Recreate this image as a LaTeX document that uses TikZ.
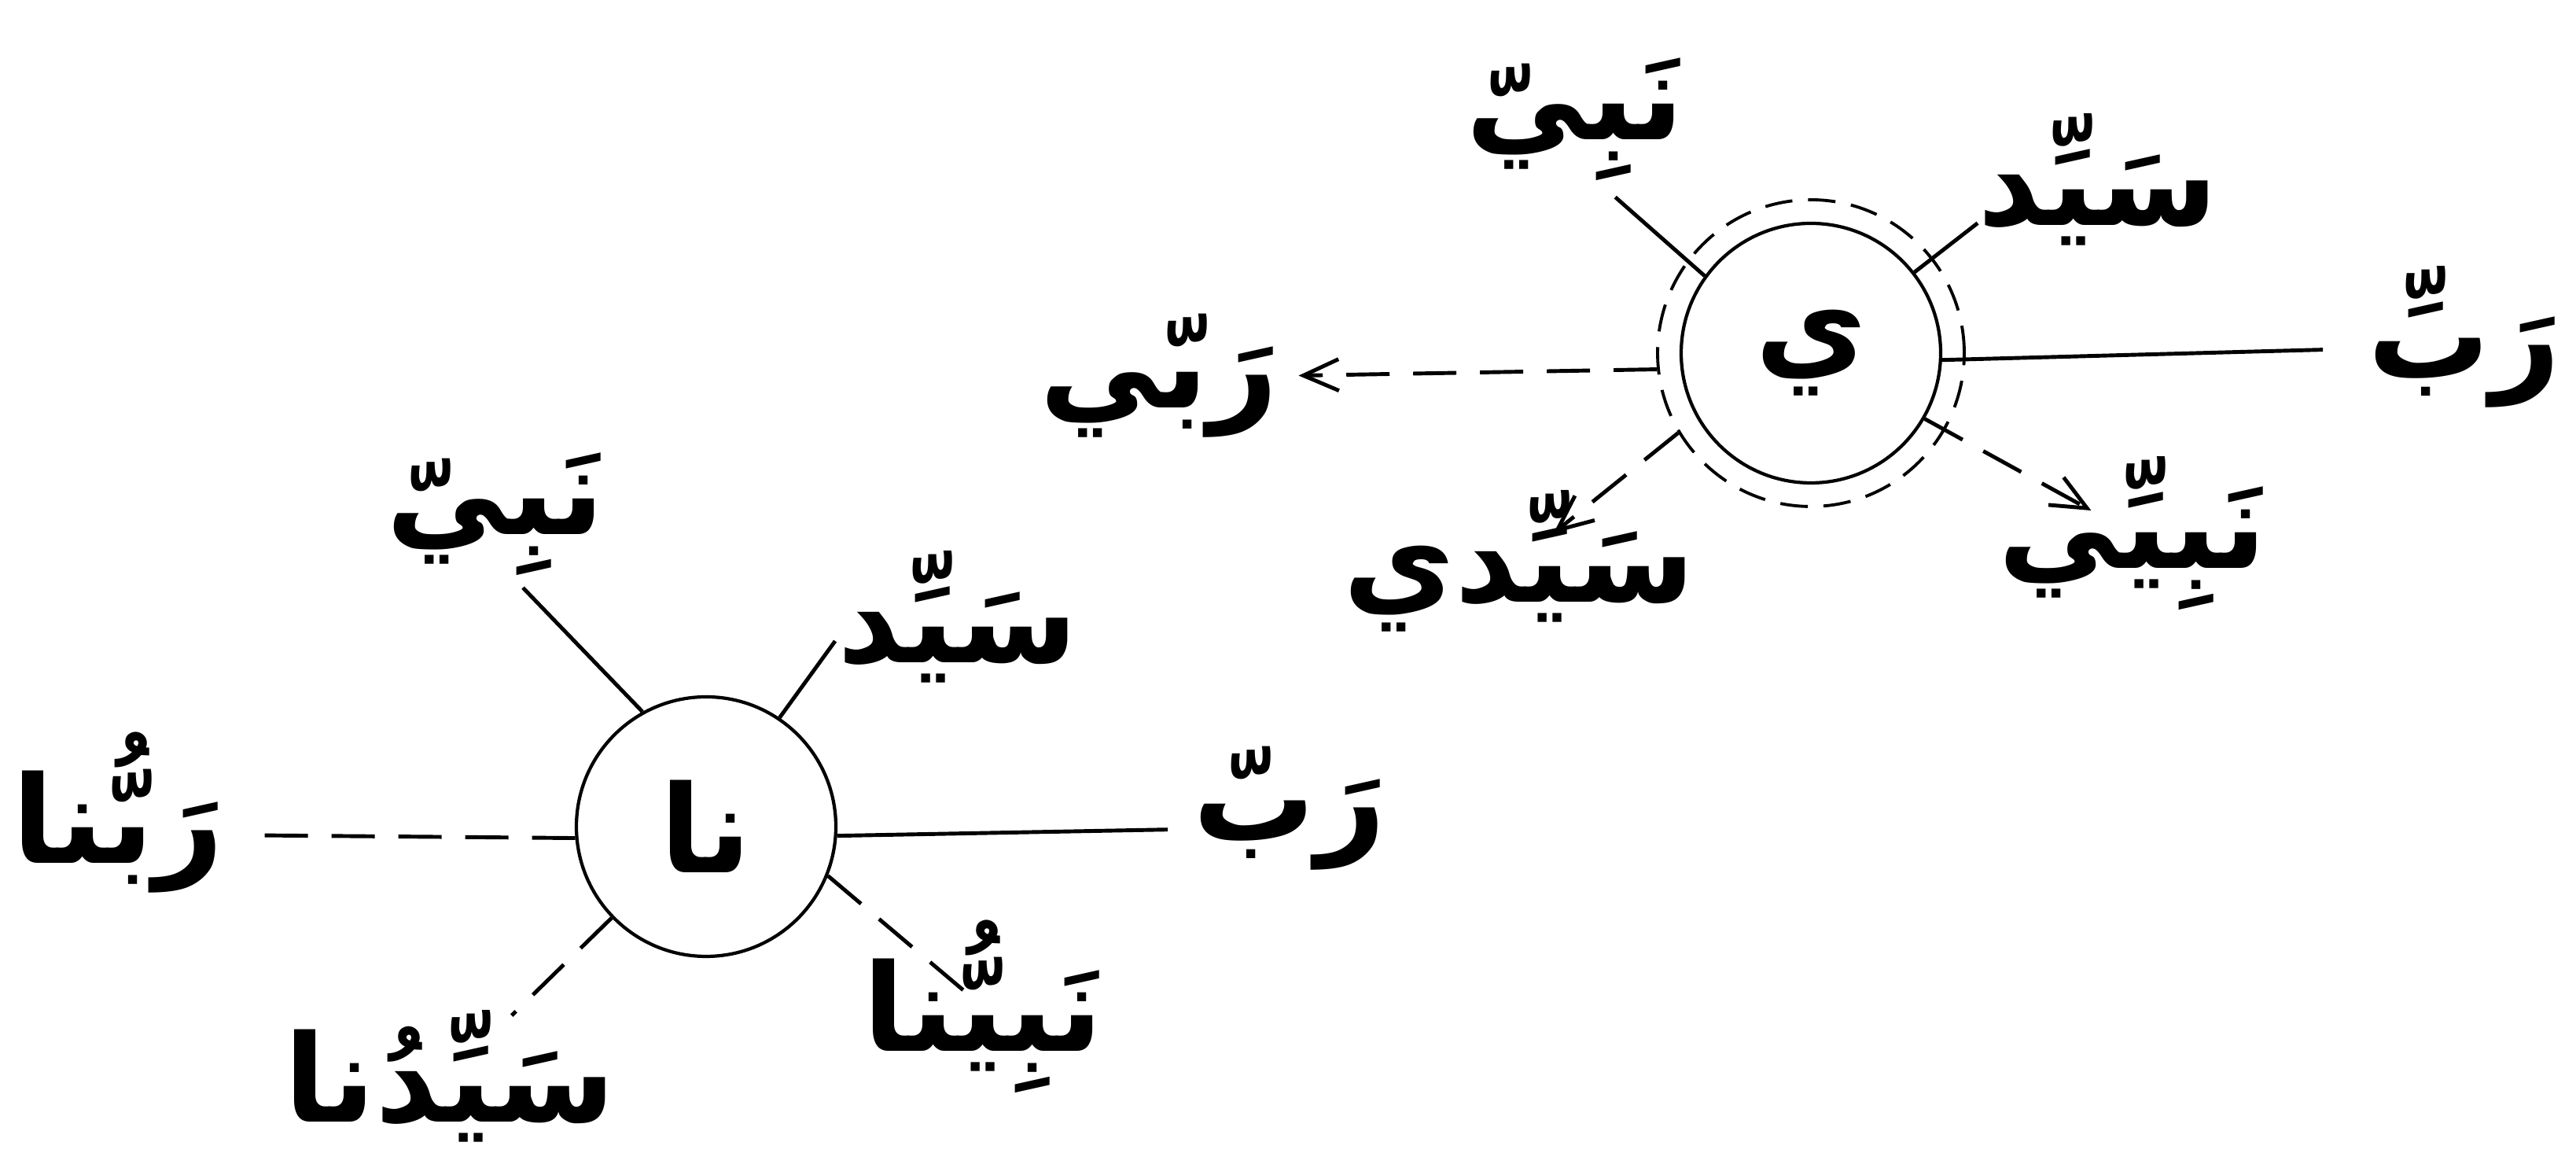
\documentclass[tikz,border=0pt]{standalone}
\usepackage{fontspec}
\newfontfamily\arabicfont[Script=Arabic]{DejaVu Sans}
\TeXXeTstate=1
\usetikzlibrary{arrows.meta}

\begin{document}
\begin{tikzpicture}[
    word/.style={font=\arabicfont\bfseries\fontsize{44}{50}\selectfont, inner sep=0pt},
    core/.style={draw, circle, line width=1.2pt, minimum size=3.3cm, inner sep=0pt, font=\arabicfont\bfseries\fontsize{44}{50}\selectfont},
    ring/.style={draw, circle, dash pattern=on 0.35cm off 0.2cm, line width=1.1pt, minimum size=3.9cm, inner sep=0pt},
    link/.style={line width=1.4pt},
    dlink/.style={line width=1.4pt, dash pattern=on 0.55cm off 0.3cm},
    arrow/.style={dlink, -{Straight Barb[length=0.45cm, width=0.4cm]}}
]
\useasboundingbox (0,0) rectangle (32.76,14.85);
\node[core] (ya) at (23.03,10.36) {\beginR ي\endR};
\node[ring] (yaring) at (ya) {};
\node[word] (nabiyA) at (20.03,13.33) {\beginR نَبِيّ\endR};
\node[word] (sayyidA) at (26.68,12.57) {\beginR سَيِّد\endR};
\node[word] (rabbA) at (31.34,10.57) {\beginR رَبِّ\endR};
\node[word] (nabiyyi) at (27.12,8.07) {\beginR نَبِيِّي\endR};
\node[word] (sayyidi) at (19.32,7.72) {\beginR سَيِّدي\endR};
\node[word] (rabbi) at (14.74,10.07) {\beginR رَبّي\endR};
\node[core] (na) at (8.98,4.34) {\beginR نا\endR};
\node[word] (nabiyB) at (6.30,8.31) {\beginR نَبِيّ\endR};
\node[word] (sayyidB) at (12.18,7.01) {\beginR سَيِّد\endR};
\node[word] (rabbB) at (16.40,4.57) {\beginR رَبّ\endR};
\node[word] (nabiyyuna) at (12.50,2.05) {\beginR نَبِيُّنا\endR};
\node[word] (sayyiduna) at (5.72,1.17) {\beginR سَيِّدُنا\endR};
\node[word] (rabbuna) at (1.50,4.52) {\beginR رَبُّنا\endR};
\draw[link, shorten >=0.3cm] (ya.144) -- (nabiyA.-70);
\draw[link] (ya.38) -- (sayyidA.200);
\draw[link, shorten >=0.57cm] (ya.-3) -- (rabbA.187);
\draw[arrow, shorten >=0.6cm] (ya.-30) -- (nabiyyi.center);
\draw[arrow, shorten >=0.56cm] (yaring.211) -- (sayyidi.center);
\draw[arrow, shorten >=0.25cm] (yaring.186) -- (rabbi.east);
\draw[link, shorten >=0.2cm] (na.119) -- (nabiyB.-75);
\draw[link, shorten >=0.05cm] (na.56) -- (sayyidB.190);
\draw[link, shorten >=0.32cm] (na.-4) -- (rabbB.192);
\draw[dlink, shorten >=0.43cm] (na.185) -- (rabbuna.-12);
\draw[dlink, shorten >=1.1cm] (na.224) -- (sayyiduna.center);
\draw[dlink, shorten >=0.1cm] (na.-22) -- (nabiyyuna.center);
\end{tikzpicture}
\end{document}
